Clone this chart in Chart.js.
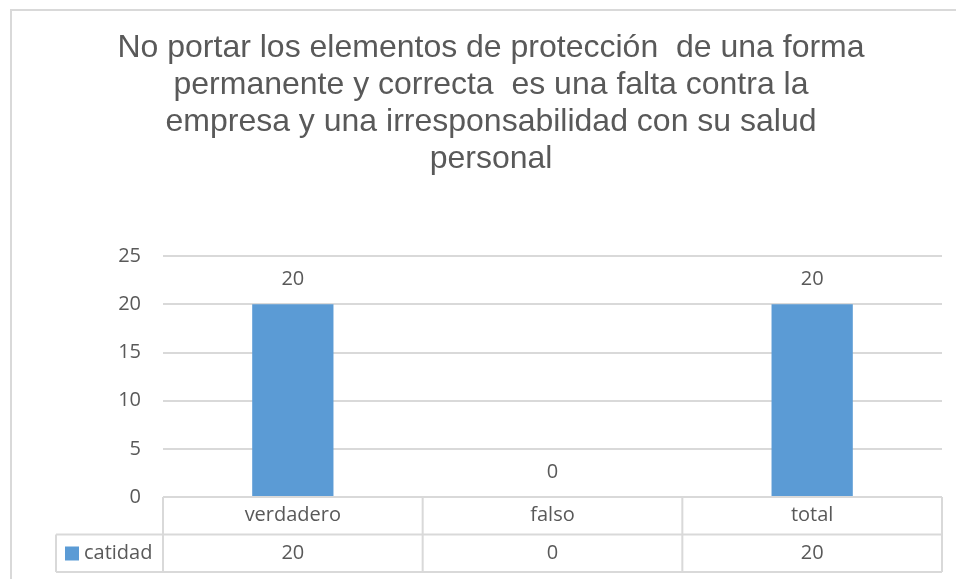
<!DOCTYPE html>
<html>
<head>
<meta charset="utf-8">
<script src="https://cdn.jsdelivr.net/npm/chart.js@4.4.0/dist/chart.umd.min.js"></script>
<style>
html,body{margin:0;padding:0;background:#fff;}
#wrap{width:956px;height:579px;position:relative;}
</style>
</head>
<body>
<div id="wrap"><canvas id="c" width="956" height="579"></canvas></div>
<script>
const titleLines = ["No portar los elementos de protección  de una forma", "permanente y correcta  es una falta contra la", "empresa y una irresponsabilidad con su salud", "personal"];
const categories = ["verdadero", "falso", "total"];
const seriesName = "catidad";
const values = [20, 0, 20];
const yTicks = [0, 5, 10, 15, 20, 25];

const TXT = '#595959';
const GRID = '#d9d9d9';
const BAR = '#5B9BD5';
const FONT = '"Open Sans", sans-serif';
const FS = 20;

const framePlugin = {
  id: 'frame',
  beforeDraw(chart) {
    const ctx = chart.ctx;
    ctx.save();
    ctx.fillStyle = '#fff';
    ctx.fillRect(0, 0, chart.width, chart.height);
    ctx.strokeStyle = GRID;
    ctx.lineWidth = 2;
    ctx.strokeRect(11, 10, 1100, 1100);
    ctx.restore();
  }
};

const tablePlugin = {
  id: 'dataTable',
  afterDraw(chart) {
    const ctx = chart.ctx;
    const area = chart.chartArea;
    const xs = chart.scales.x;
    const rowH = 37.5;
    const top = area.bottom;
    const r1 = top + rowH, r2 = top + 2 * rowH;
    const legendLeft = 56;
    ctx.save();
    ctx.strokeStyle = GRID;
    ctx.lineWidth = 2;
    ctx.beginPath();
    ctx.moveTo(area.left, top); ctx.lineTo(area.right, top);
    ctx.moveTo(legendLeft, r1); ctx.lineTo(area.right, r1);
    ctx.moveTo(legendLeft, r2); ctx.lineTo(area.right, r2);
    const n = categories.length;
    const step = (area.right - area.left) / n;
    for (let i = 0; i <= n; i++) {
      const x = area.left + i * step;
      ctx.moveTo(x, top); ctx.lineTo(x, r2);
    }
    ctx.moveTo(legendLeft, r1); ctx.lineTo(legendLeft, r2);
    ctx.stroke();
    ctx.fillStyle = TXT;
    ctx.font = FS + 'px ' + FONT;
    ctx.textAlign = 'center';
    ctx.textBaseline = 'middle';
    categories.forEach((c, i) => {
      const x = xs.getPixelForValue(i);
      ctx.fillText(c, x, top + rowH / 2);
      ctx.fillText(String(values[i]), x, r1 + rowH / 2);
    });
    ctx.fillStyle = BAR;
    ctx.fillRect(65, r1 + 12, 14, 14);
    ctx.fillStyle = TXT;
    ctx.textAlign = 'left';
    ctx.fillText(seriesName, 84, r1 + rowH / 2);
    ctx.restore();
  }
};

const labelPlugin = {
  id: 'barLabels',
  afterDatasetsDraw(chart) {
    const ctx = chart.ctx;
    const meta = chart.getDatasetMeta(0);
    ctx.save();
    ctx.fillStyle = TXT;
    ctx.font = FS + 'px ' + FONT;
    ctx.textAlign = 'center';
    ctx.textBaseline = 'middle';
    meta.data.forEach((bar, i) => {
      ctx.fillText(String(values[i]), bar.x, bar.y - 25);
    });
    ctx.restore();
  }
};

new Chart(document.getElementById('c'), {
  type: 'bar',
  data: {
    labels: categories,
    datasets: [{
      label: seriesName,
      data: values,
      backgroundColor: BAR,
      borderWidth: 0,
      barPercentage: 1,
      categoryPercentage: 0.313
    }]
  },
  options: {
    responsive: false,
    animation: false,
    devicePixelRatio: 1,
    layout: { padding: { left: 40, right: 14, top: 0, bottom: 82 } },
    plugins: {
      legend: { display: false },
      tooltip: { enabled: false },
      title: {
        display: true,
        text: titleLines,
        color: TXT,
        font: { family: '"Liberation Sans", Arial, sans-serif', size: 32, weight: 'normal', lineHeight: 1.15 },
        padding: { top: 30, bottom: 79 }
      }
    },
    scales: {
      x: {
        display: false,
        grid: { display: false }
      },
      y: {
        min: 0,
        max: 25,
        afterBuildTicks(s) { s.ticks = yTicks.map(v => ({ value: v })); },
        afterFit(s) { s.width = 123; },
        border: { display: false },
        grid: { color: GRID, lineWidth: 2, drawTicks: false },
        ticks: {
          color: TXT,
          font: { family: FONT, size: FS },
          padding: 22
        }
      }
    }
  },
  plugins: [framePlugin, labelPlugin, tablePlugin]
});
</script>
</body>
</html>
